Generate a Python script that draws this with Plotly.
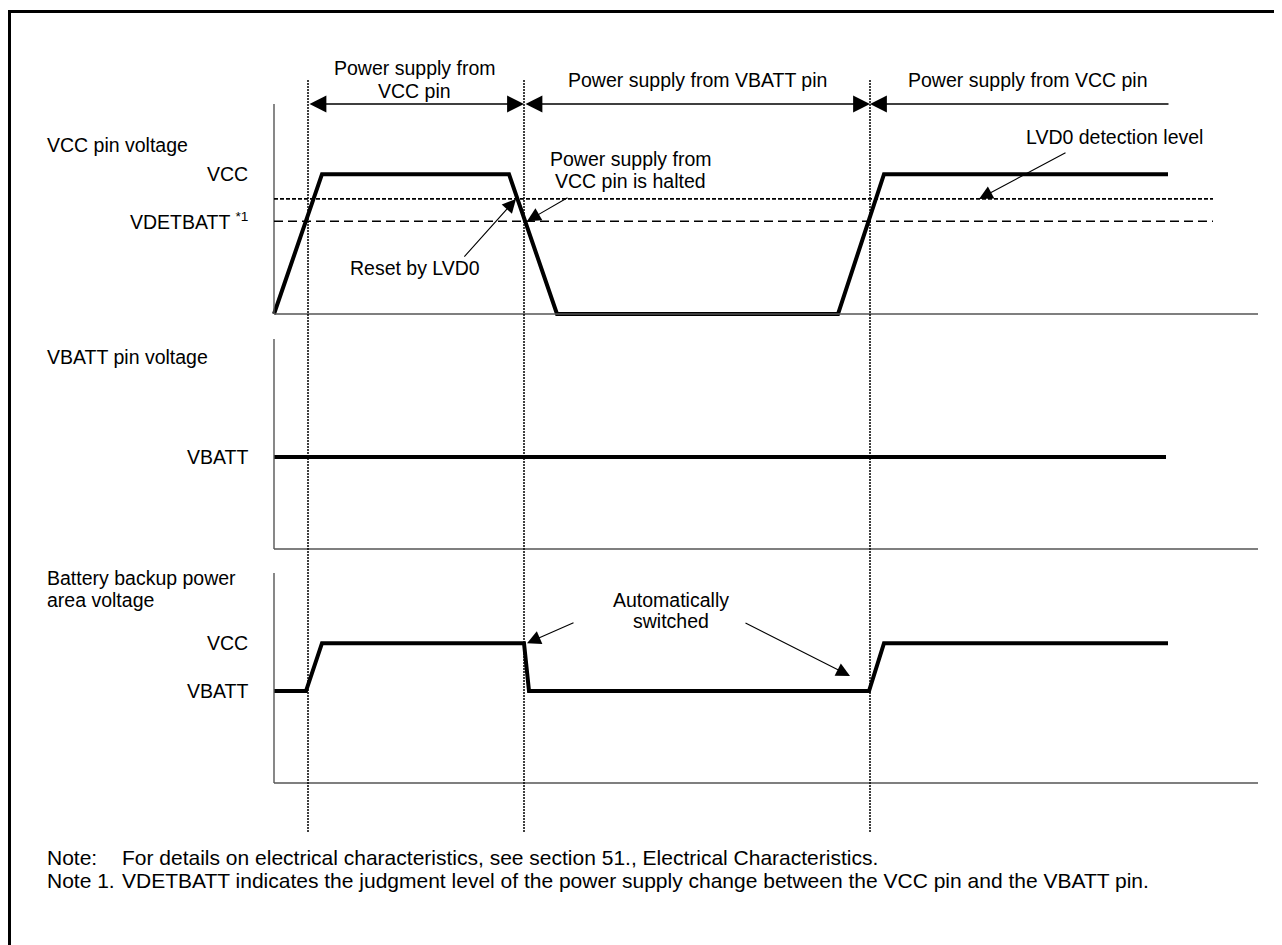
import plotly.graph_objects as go

# ---------------- data (time in arbitrary units, voltages in V) ----------------
VCC = 3.33
VBATT = 2.19
VDETBATT = 2.21
LVD0 = 2.74
AXIS_TOP = 5.0
T_END_AXIS = 98.4
T_END_LEVELS = 93.9
T_END_ROW = 89.6

dividers = [3.4, 25.0, 59.6]

vcc_t = [0, 4.8, 23.5, 28.3, 56.4, 61.0, 89.4]
vcc_v = [0, VCC, VCC, 0, 0, VCC, VCC]

vbatt_t = [0, 89.2]
vbatt_v = [VBATT, VBATT]

bk_t = [0, 3.2, 4.8, 25.0, 25.5, 59.5, 61.0, 89.4]
bk_v = [VBATT, VBATT, VCC, VCC, VBATT, VBATT, VCC, VCC]

phase_labels = ["Power supply from VCC pin", "Power supply from VBATT pin", "Power supply from VCC pin"]

# ---------------- layout helpers ----------------
W, H = 1282, 945
OFF = 8          # page body margin of the html page
PPU = 42.0       # pixels per volt unit
FONT = dict(family="Arial, Liberation Sans, sans-serif", size=19.5, color="black")
NOTE_FONT = dict(family="Arial, Liberation Sans, sans-serif", size=21, color="black")


def dom(top_px, bot_px):
    return [1 - (bot_px - OFF) / H, 1 - (top_px - OFF) / H]


def rng(base_px, top_px, bot_px):
    return [-(bot_px - base_px) / PPU, (base_px - top_px) / PPU]


def px(xp):
    return (xp - OFF) / W


def py(yp):
    return 1 - (yp - OFF) / H


fig = go.Figure()

line_style = dict(color="black", width=4)
fig.add_trace(go.Scatter(x=vcc_t, y=vcc_v, mode="lines", line=line_style, yaxis="y", hoverinfo="skip"))
fig.add_trace(go.Scatter(x=vbatt_t, y=vbatt_v, mode="lines", line=line_style, yaxis="y2", hoverinfo="skip"))
fig.add_trace(go.Scatter(x=bk_t, y=bk_v, mode="lines", line=line_style, yaxis="y3", hoverinfo="skip"))

shapes = []
axis_col = "#555555"
for yref in ["y", "y2", "y3"]:
    shapes.append(dict(type="line", xref="x", yref=yref, x0=0, x1=0, y0=0, y1=AXIS_TOP,
                       line=dict(color=axis_col, width=1.4)))
    shapes.append(dict(type="line", xref="x", yref=yref, x0=0, x1=T_END_AXIS, y0=0, y1=0,
                       line=dict(color=axis_col, width=1.4)))

# threshold levels
shapes.append(dict(type="line", xref="x", yref="y", x0=0, x1=T_END_LEVELS, y0=LVD0, y1=LVD0,
                   line=dict(color="black", width=1.6, dash="4px,2px")))
shapes.append(dict(type="line", xref="x", yref="y", x0=0, x1=T_END_LEVELS, y0=VDETBATT, y1=VDETBATT,
                   line=dict(color="black", width=1.6, dash="9px,5px")))

# dividers
for d in dividers:
    shapes.append(dict(type="line", xref="x", yref="paper", x0=d, x1=d, y0=py(832), y1=py(80),
                       line=dict(color="black", width=1.5, dash="2px,1px")))

# outer frame
shapes.append(dict(type="rect", xref="paper", yref="paper", x0=px(9.5), x1=1.05, y0=-0.05, y1=py(11.5),
                   line=dict(color="black", width=3), fillcolor="rgba(0,0,0,0)"))

ann = []


def txt(text, x, y, xref="x", yref="y", xanchor="center", font=FONT):
    ann.append(dict(text=text, x=x, y=y, xref=xref, yref=yref, xanchor=xanchor, yanchor="middle",
                    showarrow=False, font=font))


def arrow(x, y, ax, ay, yref="y", side="end", size=2.0, width=1.2):
    ann.append(dict(text="", x=x, y=y, ax=ax, ay=ay, xref="x", yref=yref, axref="x", ayref=yref,
                    showarrow=True, arrowhead=2, arrowsize=size, arrowwidth=width, arrowside=side,
                    arrowcolor="black", standoff=0, startstandoff=0))


# phase row arrows
arrow(dividers[1], AXIS_TOP, dividers[0], AXIS_TOP, side="end+start", size=2.6, width=1.3)
arrow(dividers[2], AXIS_TOP, dividers[1], AXIS_TOP, side="end+start", size=2.6, width=1.3)
arrow(dividers[2], AXIS_TOP, T_END_ROW, AXIS_TOP, side="end", size=2.6, width=1.3)

# phase labels
txt("Power supply from", 14.0, (314 - 68) / PPU)
txt("VCC pin", 14.0, (314 - 91) / PPU)
txt(phase_labels[1], 42.3, (314 - 80) / PPU)
txt(phase_labels[2], 75.4, (314 - 80) / PPU)

# left labels
txt("VCC pin voltage", -22.9, (314 - 145) / PPU, xanchor="left")
txt("VCC", -2.4, VCC, xanchor="right")
txt("VDETBATT <sup>*1</sup>", -2.4, VDETBATT, xanchor="right")
txt("VBATT pin voltage", -22.9, (549 - 357) / PPU, yref="y2", xanchor="left")
txt("VBATT", -2.4, VBATT, yref="y2", xanchor="right")
txt("Battery backup power", -22.9, (783 - 578) / PPU, yref="y3", xanchor="left")
txt("area voltage", -22.9, (783 - 600) / PPU, yref="y3", xanchor="left")
txt("VCC", -2.4, VCC, yref="y3", xanchor="right")
txt("VBATT", -2.4, VBATT, yref="y3", xanchor="right")

# callouts panel 1
txt("Power supply from", 35.6, (314 - 159) / PPU)
txt("VCC pin is halted", 35.6, (314 - 181) / PPU)
arrow(25.3, VDETBATT, 29.5, 2.79, size=2.5, width=1.1)
txt("Reset by LVD0", 14.1, (314 - 268) / PPU)
arrow(24.2, LVD0, 18.9, 1.33, size=2.5, width=1.1)
txt("LVD0 detection level", 84.0, (314 - 137) / PPU)
arrow(70.5, LVD0, 79.3, 3.86, size=2.5, width=1.1)

# callouts panel 3
txt("Automatically", 39.7, (783 - 600) / PPU, yref="y3")
txt("switched", 39.7, (783 - 621) / PPU, yref="y3")
arrow(25.3, VCC, 30.1, 3.83, yref="y3", size=2.5, width=1.1)
arrow(57.6, 2.55, 47.0, 3.83, yref="y3", size=2.5, width=1.1)

# notes
txt("Note:", px(45), py(857), xref="paper", yref="paper", xanchor="left", font=NOTE_FONT)
txt("For details on electrical characteristics, see section 51., Electrical Characteristics.",
    px(120), py(857), xref="paper", yref="paper", xanchor="left", font=NOTE_FONT)
txt("Note 1.", px(45), py(880), xref="paper", yref="paper", xanchor="left", font=NOTE_FONT)
txt("VDETBATT indicates the judgment level of the power supply change between the VCC pin and the VBATT pin.",
    px(120), py(880), xref="paper", yref="paper", xanchor="left", font=NOTE_FONT)

x0 = (OFF - 274) / 10.0
axis_common = dict(visible=False, showgrid=False, zeroline=False, fixedrange=True)
fig.update_layout(
    width=W, height=H,
    margin=dict(l=0, r=0, t=0, b=0),
    paper_bgcolor="white", plot_bgcolor="white",
    showlegend=False,
    xaxis=dict(range=[x0, x0 + W / 10.0], domain=[0, 1], **axis_common),
    yaxis=dict(domain=dom(50, 330), range=rng(314, 50, 330), anchor="x", **axis_common),
    yaxis2=dict(domain=dom(330, 560), range=rng(549, 330, 560), anchor="x", **axis_common),
    yaxis3=dict(domain=dom(560, 800), range=rng(783, 560, 800), anchor="x", **axis_common),
    shapes=shapes,
    annotations=ann,
)

fig.write_html("out.html")
